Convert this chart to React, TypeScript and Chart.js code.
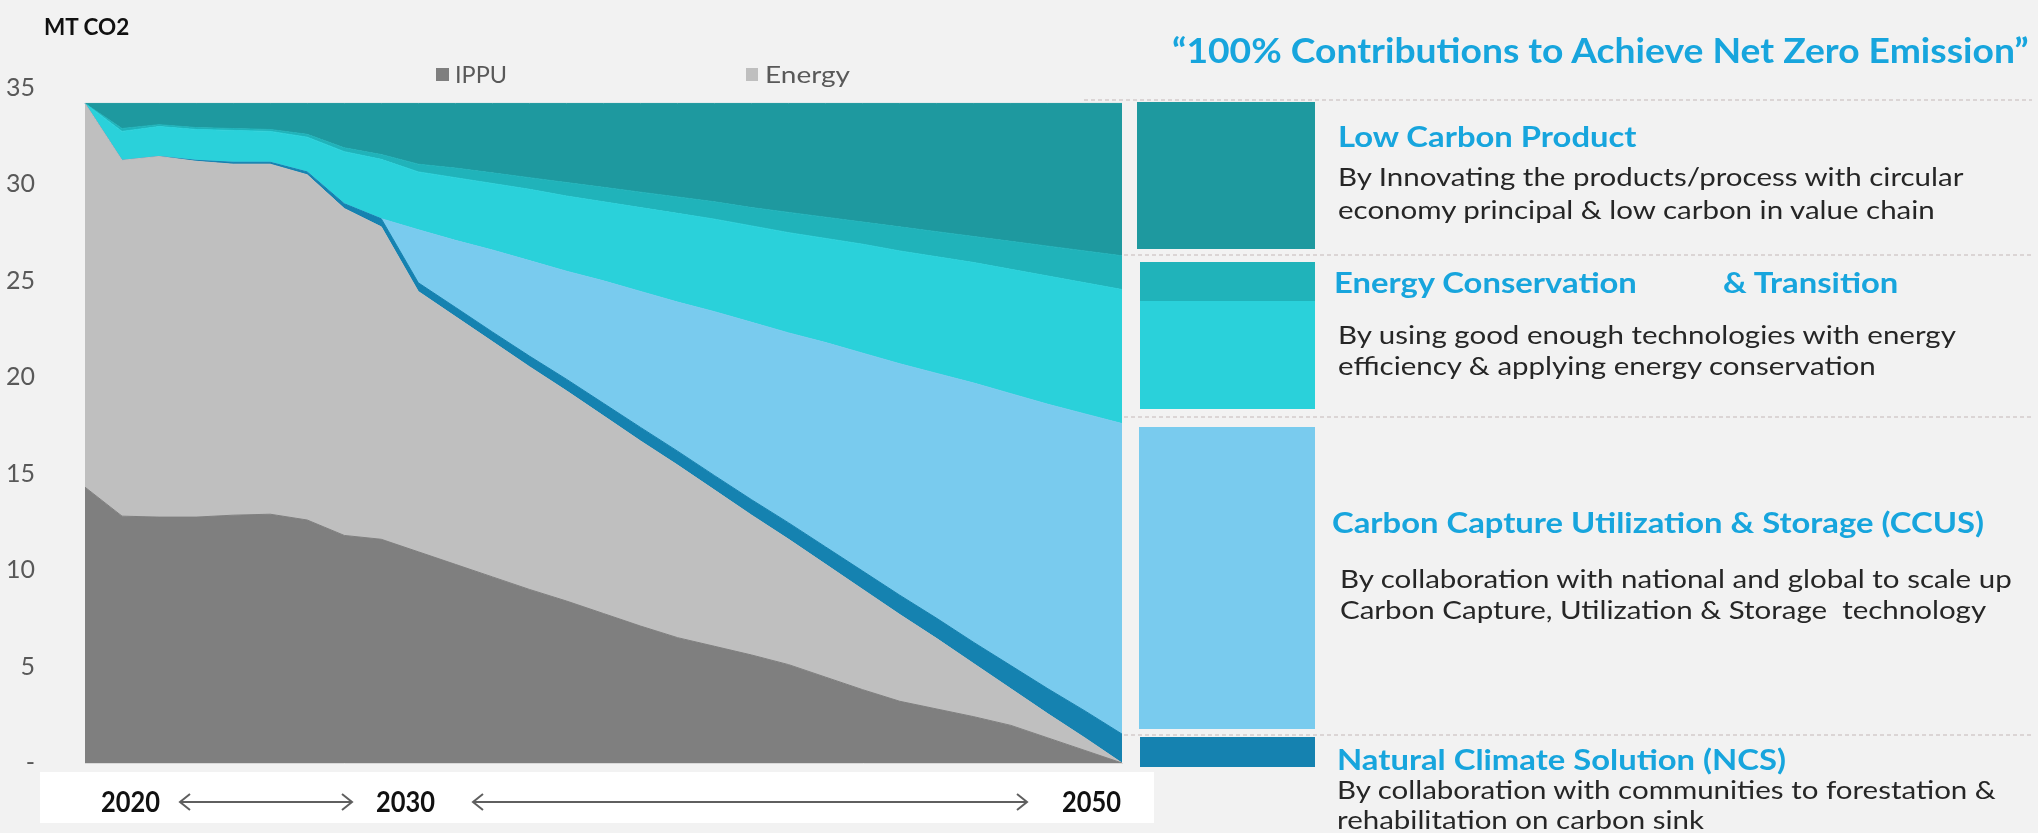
import React, { useEffect, useRef } from "react";
import { Chart, registerables } from "chart.js";

Chart.register(...registerables);

// ---------- data ----------
const years = [
  "2022", "2023", "2024", "2025", "2026", "2027", "2028", "2029", "2030", "2031",
  "2032", "2033", "2034", "2035", "2036", "2037", "2038", "2039", "2040", "2041",
  "2042", "2043", "2044", "2045", "2046", "2047", "2048", "2049", "2050",
];
const ippu = [14.3, 12.8, 12.75, 12.75, 12.85, 12.9, 12.6, 11.8, 11.6, 10.95, 10.3, 9.65, 9.0, 8.4, 7.75, 7.1, 6.5, 6.05, 5.6, 5.1, 4.45, 3.8, 3.2, 2.8, 2.4, 1.95, 1.3, 0.65, 0];
const energy = [19.9, 18.45, 18.7, 18.45, 18.2, 18.15, 17.9, 16.95, 16.2, 13.5, 12.85, 12.2, 11.55, 10.9, 10.25, 9.6, 8.95, 8.1, 7.25, 6.5, 5.85, 5.2, 4.5, 3.65, 2.75, 1.9, 1.25, 0.65, 0];
const ncs = [0, 0, 0, 0.05, 0.1, 0.1, 0.15, 0.25, 0.42, 0.45, 0.48, 0.5, 0.55, 0.6, 0.65, 0.7, 0.72, 0.75, 0.8, 0.85, 0.9, 0.95, 1.0, 1.05, 1.1, 1.2, 1.3, 1.4, 1.5];
const ccus = [0, 0, 0, 0, 0, 0, 0, 0, 0, 2.75, 3.47, 4.25, 4.95, 5.6, 6.35, 7.05, 7.73, 8.5, 9.2, 9.85, 10.6, 11.3, 12.0, 12.7, 13.45, 14.1, 14.75, 15.4, 16.1];
const conservation = [0, 1.5, 1.55, 1.6, 1.65, 1.6, 1.8, 2.7, 3.08, 3.0, 3.25, 3.45, 3.7, 3.9, 4.1, 4.35, 4.6, 4.8, 5.0, 5.2, 5.4, 5.65, 5.85, 6.05, 6.25, 6.45, 6.65, 6.8, 6.95];
const transition = [0, 0.15, 0.1, 0.1, 0.1, 0.1, 0.15, 0.2, 0.25, 0.4, 0.5, 0.55, 0.6, 0.7, 0.75, 0.8, 0.85, 0.9, 0.95, 1.05, 1.1, 1.15, 1.25, 1.3, 1.35, 1.45, 1.55, 1.65, 1.75];
const lowCarbon = [0, 1.3, 1.1, 1.25, 1.3, 1.35, 1.6, 2.3, 2.65, 3.15, 3.35, 3.6, 3.85, 4.1, 4.35, 4.6, 4.85, 5.1, 5.4, 5.65, 5.9, 6.15, 6.4, 6.65, 6.9, 7.15, 7.4, 7.65, 7.9];

const yMin = 0;
const yMax = 35;
const yStep = 5;
const timelineLabels = ["2020", "2030", "2050"];

const seriesNames = ["IPPU", "Energy", "NCS", "CCUS", "Energy Conservation", "Energy Transition", "Low Carbon Product"];

// ---------- styles ----------
const FONT = "Lato, 'Noto Sans', sans-serif";
const COLORS = {
  ippu: "#7f7f7f",
  energy: "#bfbfbf",
  ncs: "#1582b0",
  ccus: "#79cbee",
  conservation: "#2ad1da",
  transition: "#20b3ba",
  lowCarbon: "#1e999f",
};
const BLUE_TEXT = "#17a5dd";
const GREY_TEXT = "#595959";
const DARK_TEXT = "#262626";

const mctx = document.createElement("canvas").getContext("2d") as CanvasRenderingContext2D;
function measure(text: string, size: number, weight: number) {
  mctx.font = `${weight} ${size}px ${FONT}`;
  return mctx.measureText(text).width;
}

const HEAD_SIZE = 28;
const DESC_SIZE = 25;
const HEAD_SX = 652 / measure("Carbon Capture Utilization & Storage (CCUS)", HEAD_SIZE, 700);
const DESC_SX = 673 / measure("By collaboration with national and global to scale up", DESC_SIZE, 400);

type BlockProps = {
  x: number;
  y: number; // visual center of first line
  lines: string[];
  size: number;
  weight?: number;
  color: string;
  lh?: number;
  w?: number; // target width of the first line
  sx?: number;
};

function Block({ x, y, lines, size, weight = 400, color, lh, w, sx }: BlockProps) {
  const lineH = lh ?? Math.round(size * 1.2);
  const scale = sx ?? (w ? w / measure(lines[0], size, weight) : 1);
  const offset = (lineH - size * 1.2) / 2 + size * 0.627;
  return (
    <div
      style={{
        position: "absolute",
        left: x,
        top: y - offset,
        fontFamily: FONT,
        fontSize: size,
        fontWeight: weight,
        color,
        lineHeight: `${lineH}px`,
        whiteSpace: "pre",
        transform: `scaleX(${scale})`,
        transformOrigin: "left top",
        zIndex: 3,
      }}
    >
      {lines.map((l, i) => (
        <div key={i}>{l}</div>
      ))}
    </div>
  );
}

function Rect({ x, y, w, h, c }: { x: number; y: number; w: number; h: number; c: string }) {
  return <div style={{ position: "absolute", left: x, top: y, width: w, height: h, background: c, zIndex: 2 }} />;
}

export default function App() {
  const ref = useRef<HTMLCanvasElement>(null);

  useEffect(() => {
    document.body.style.margin = "0";
    document.body.style.background = "#f2f2f2";
    const series = [ippu, energy, ncs, ccus, conservation, transition, lowCarbon];
    const cols = [COLORS.ippu, COLORS.energy, COLORS.ncs, COLORS.ccus, COLORS.conservation, COLORS.transition, COLORS.lowCarbon];
    const chart = new Chart(ref.current as HTMLCanvasElement, {
      type: "line",
      data: {
        labels: years,
        datasets: series.map((d, i) => ({
          label: seriesNames[i],
          data: d,
          backgroundColor: cols[i],
          borderColor: cols[i],
          borderWidth: 1,
          pointRadius: 0,
          tension: 0,
          fill: i === 0 ? "origin" : "-1",
        })),
      },
      options: {
        animation: false,
        responsive: true,
        maintainAspectRatio: false,
        layout: { padding: { top: 88, bottom: 70, left: 0, right: 18 } },
        plugins: { legend: { display: false }, tooltip: { enabled: false } },
        scales: {
          x: {
            display: true,
            offset: false,
            ticks: { display: false },
            grid: { display: false, drawTicks: false },
            border: { display: true, color: "#d9d9d9", width: 1 },
            afterFit: (s: any) => {
              s.height = 0;
            },
          },
          y: {
            stacked: true,
            min: yMin,
            max: yMax,
            ticks: {
              stepSize: yStep,
              padding: 50,
              color: GREY_TEXT,
              font: { family: FONT, size: 25 },
              callback: (v: any) => (Number(v) === 0 ? "-" : String(v)),
            },
            grid: { display: false, drawTicks: false },
            border: { display: false },
            afterFit: (s: any) => {
              s.width = 85;
            },
          },
        },
      },
    });
    return () => chart.destroy();
  }, []);

  const arrowY = 802;
  const arrow = (x1: number, x2: number) => (
    <g stroke="#5f5f5f" strokeWidth={2} fill="none">
      <line x1={x1} y1={arrowY} x2={x2} y2={arrowY} />
      <polyline points={`${x1 + 10},${arrowY - 8} ${x1},${arrowY} ${x1 + 10},${arrowY + 8}`} />
      <polyline points={`${x2 - 10},${arrowY - 8} ${x2},${arrowY} ${x2 - 10},${arrowY + 8}`} />
    </g>
  );
  const dash = (x1: number, y: number) => (
    <line x1={x1} y1={y} x2={2032} y2={y} stroke="#d4cccc" strokeWidth={1.5} strokeDasharray="4 3" />
  );

  return (
    <div style={{ position: "relative", width: 2038, height: 833, background: "#f2f2f2", overflow: "hidden", fontFamily: FONT }}>
      <div style={{ position: "absolute", left: 0, top: 0, width: 1140, height: 833, zIndex: 1 }}>
        <canvas ref={ref} />
      </div>

      <svg width={2038} height={833} style={{ position: "absolute", left: 0, top: 0, zIndex: 2 }}>
        {dash(1084, 100)}
        {dash(1124, 255)}
        {dash(1124, 417)}
        {dash(1124, 735)}
        <rect x={40} y={772} width={1114} height={51} fill="#ffffff" />
        {arrow(180, 352)}
        {arrow(473, 1027)}
      </svg>

      {/* axis title */}
      <Block x={44} y={27} lines={["MT CO2"]} size={23} weight={700} color="#111111" w={86} />

      {/* legend */}
      <Rect x={436} y={68} w={13} h={13} c={COLORS.ippu} />
      <Block x={455} y={75} lines={[seriesNames[0]]} size={23} color={GREY_TEXT} w={52} />
      <Rect x={746} y={68} w={12} h={13} c={COLORS.energy} />
      <Block x={765} y={75} lines={[seriesNames[1]]} size={23} color={GREY_TEXT} w={85} />

      {/* timeline labels */}
      <Block x={101} y={arrowY} lines={[timelineLabels[0]]} size={28} weight={700} color="#111111" w={59} />
      <Block x={376} y={arrowY} lines={[timelineLabels[1]]} size={28} weight={700} color="#111111" w={59} />
      <Block x={1062} y={arrowY} lines={[timelineLabels[2]]} size={28} weight={700} color="#111111" w={59} />

      {/* title */}
      <Block x={1172} y={50} lines={["\u201c100% Contributions to Achieve Net Zero Emission\u201d"]} size={34} weight={700} color={BLUE_TEXT} w={858} />

      {/* right side blocks */}
      <Rect x={1137} y={102} w={178} h={147} c={COLORS.lowCarbon} />
      <Rect x={1140} y={262} w={175} h={39} c={COLORS.transition} />
      <Rect x={1140} y={301} w={175} h={108} c={COLORS.conservation} />
      <Rect x={1139} y={427} w={176} h={302} c={COLORS.ccus} />
      <Rect x={1140} y={737} w={175} h={30} c={COLORS.ncs} />

      <Block x={1338} y={137} lines={["Low Carbon Product"]} size={HEAD_SIZE} weight={700} color={BLUE_TEXT} sx={HEAD_SX} />
      <Block
        x={1338}
        y={177}
        lines={["By Innovating the products/process with circular", "economy principal & low carbon in value chain"]}
        size={DESC_SIZE}
        color={DARK_TEXT}
        lh={33}
        sx={DESC_SX}
      />

      <Block x={1334} y={283} lines={["Energy Conservation"]} size={HEAD_SIZE} weight={700} color={BLUE_TEXT} sx={HEAD_SX} />
      <Block x={1723} y={283} lines={["& Transition"]} size={HEAD_SIZE} weight={700} color={BLUE_TEXT} sx={HEAD_SX} />
      <Block
        x={1338}
        y={335}
        lines={["By using good enough technologies with energy", "efficiency & applying energy conservation"]}
        size={DESC_SIZE}
        color={DARK_TEXT}
        lh={31}
        sx={DESC_SX}
      />

      <Block x={1332} y={523} lines={["Carbon Capture Utilization & Storage (CCUS)"]} size={HEAD_SIZE} weight={700} color={BLUE_TEXT} sx={HEAD_SX} />
      <Block
        x={1340}
        y={579}
        lines={["By collaboration with national and global to scale up", "Carbon Capture, Utilization & Storage  technology"]}
        size={DESC_SIZE}
        color={DARK_TEXT}
        lh={31}
        sx={DESC_SX}
      />

      <Block x={1337} y={760} lines={["Natural Climate Solution (NCS)"]} size={HEAD_SIZE} weight={700} color={BLUE_TEXT} sx={HEAD_SX} />
      <Block
        x={1337}
        y={790}
        lines={["By collaboration with communities to forestation &", "rehabilitation on carbon sink"]}
        size={DESC_SIZE}
        color={DARK_TEXT}
        lh={30}
        sx={DESC_SX}
      />
    </div>
  );
}
